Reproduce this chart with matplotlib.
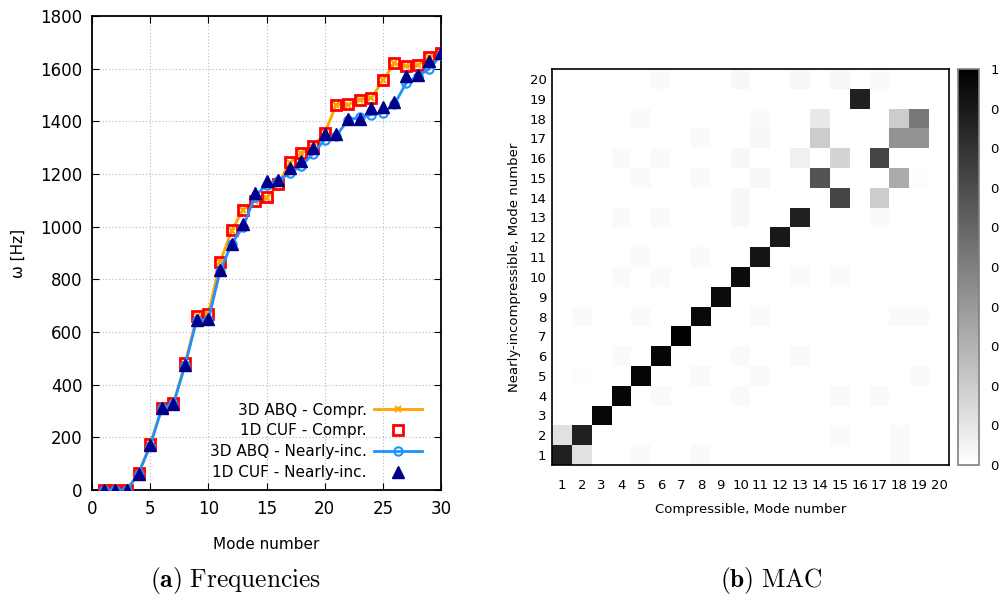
import matplotlib
matplotlib.use('Agg')
import matplotlib.pyplot as plt
import numpy as np

# frequencies
modes = list(range(1, 31))
abq_compr = [0, 0, 0, 65, 172, 312, 328, 480, 659, 669, 864, 985, 1065, 1097, 1110,
             1162, 1243, 1279, 1304, 1355, 1463, 1463, 1482, 1487, 1556, 1620, 1609, 1613, 1644, 1658]
cuf_compr = [0, 0, 0, 66, 173, 313, 329, 481, 660, 670, 865, 987, 1065, 1098, 1111,
             1163, 1244, 1280, 1305, 1356, 1463, 1464, 1482, 1488, 1557, 1621, 1609, 1614, 1644, 1658]
abq_ninc = [0, 0, 0, 62, 168, 310, 326, 474, 645, 645, 830, 935, 1000, 1114, 1160,
            1175, 1203, 1232, 1276, 1330, 1345, 1405, 1415, 1425, 1432, 1465, 1545, 1572, 1599, 1652]
cuf_ninc = [0, 0, 0, 62, 170, 310, 327, 475, 646, 650, 834, 936, 1010, 1129, 1175,
            1177, 1222, 1251, 1298, 1351, 1351, 1410, 1410, 1450, 1456, 1472, 1573, 1577, 1628, 1658]

# MAC matrix, rows = nearly-incompressible mode 1..20, cols = compressible mode 1..20
mac_rows = [
    {1: .87, 2: .12, 5: .02, 8: .02, 18: .02},
    {1: .12, 2: .87, 15: .02, 18: .02},
    {3: .97},
    {4: .98, 6: .02, 10: .02, 15: .02, 17: .02},
    {5: .98, 2: .01, 8: .02, 11: .02, 19: .02},
    {6: .98, 4: .02, 10: .02, 13: .02},
    {7: .99},
    {8: .96, 2: .02, 5: .02, 11: .02, 18: .02, 19: .02},
    {9: .95},
    {10: .95, 4: .02, 6: .02, 13: .02, 15: .02},
    {11: .92, 5: .02, 8: .02},
    {12: .90},
    {13: .87, 4: .02, 6: .02, 10: .03, 17: .02},
    {15: .73, 17: .20, 10: .03},
    {14: .67, 18: .33, 5: .02, 8: .02, 11: .03, 19: .01},
    {17: .73, 15: .17, 13: .06, 4: .02, 6: .02, 10: .03},
    {14: .20, 18: .42, 19: .42, 8: .02, 11: .03},
    {14: .09, 18: .20, 19: .53, 5: .02, 11: .02},
    {16: .87},
    {6: .02, 10: .03, 13: .03, 15: .03, 17: .02},
]
mac_ticks = list(range(1, 21))
cbar_ticks = [0, 0.1, 0.2, 0.3, 0.4, 0.5, 0.6, 0.7, 0.8, 0.9, 1]
# the reference only shows the leading character of each colorbar label
cbar_labels = ['0', '0', '0', '0', '0', '0', '0', '0', '0', '0', '1']

mac = np.zeros((20, 20))
for r, row in enumerate(mac_rows):
    for c, v in row.items():
        mac[r, c - 1] = v

plt.rcParams['font.family'] = 'DejaVu Sans'
plt.rcParams['mathtext.fontset'] = 'cm'

fig = plt.figure(figsize=(9.99, 6.0), dpi=100)

# ---- left: frequencies
ax1 = fig.add_axes([92 / 999, 1 - 490 / 600, 349 / 999, 474 / 600])
ax1.plot(modes, abq_compr, color='#ffa500', lw=2, marker='x', ms=5, mew=1.5,
         label='3D ABQ - Compr.', zorder=3)
ax1.plot(modes, cuf_compr, ls='none', marker='s', ms=7, mfc='none', mec='#ff0000', mew=2,
         label='1D CUF - Compr.', zorder=4)
ax1.plot(modes, abq_ninc, color='#1e90ff', lw=2, marker='o', ms=6, mfc='none', mew=1.5,
         label='3D ABQ - Nearly-inc.', zorder=5)
ax1.plot(modes, cuf_ninc, ls='none', marker='^', ms=8, color='#00008b',
         label='1D CUF - Nearly-inc.', zorder=6)
ax1.set_xlim(0, 30)
ax1.set_ylim(0, 1800)
ax1.set_xticks(range(0, 31, 5))
ax1.set_yticks(range(0, 1801, 200))
ax1.grid(True, ls=(0, (1, 2)), color='#b8b8b8', lw=0.8)
ax1.tick_params(direction='in', top=True, right=True, labelsize=12, length=5, pad=7)
for s in ax1.spines.values():
    s.set_linewidth(1.3)
ax1.set_xlabel('Mode number', fontsize=11, labelpad=14)
ax1.set_ylabel('ω [Hz]', fontsize=11, labelpad=10)
ax1.legend(loc='lower right', bbox_to_anchor=(0.967, 0.005), frameon=False,
           markerfirst=False, fontsize=11, handlelength=3.1, labelspacing=0.38,
           borderpad=0, handletextpad=0.5)

# ---- right: MAC
ax2 = fig.add_axes([552 / 999, 1 - 465 / 600, 397 / 999, 396 / 600])
im = ax2.imshow(mac, cmap='gray_r', vmin=0, vmax=1, origin='lower',
                extent=(0.5, 20.5, 0.5, 20.5), interpolation='nearest', aspect='auto')
ax2.set_xticks(mac_ticks)
ax2.set_yticks(mac_ticks)
ax2.tick_params(length=0, labelsize=9.5, pad=10)
ax2.tick_params(axis='y', pad=4)
for s in ax2.spines.values():
    s.set_linewidth(1.2)
ax2.set_xlabel('Compressible, Mode number', fontsize=9.5, labelpad=8)
ax2.set_ylabel('Nearly-incompressible, Mode number', fontsize=9.5, labelpad=6)

cax = fig.add_axes([958 / 999, 1 - 465 / 600, 21 / 999, 396 / 600])
cb = fig.colorbar(im, cax=cax, ticks=cbar_ticks)
cb.ax.set_yticklabels(cbar_labels)
cb.ax.tick_params(length=0, labelsize=9.5, pad=8)
cb.outline.set_edgecolor('#808080')
cb.outline.set_linewidth(1.2)

# captions
fig.text(236 / 999, 1 - 581 / 600, r'$\mathbf{(a)}\ \mathrm{Frequencies}$', fontsize=18.3,
         ha='center', va='center')
fig.text(771 / 999, 1 - 581 / 600, r'$\mathbf{(b)}\ \mathrm{MAC}$', fontsize=18.3,
         ha='center', va='center')

fig.savefig('out.png', dpi=100)
